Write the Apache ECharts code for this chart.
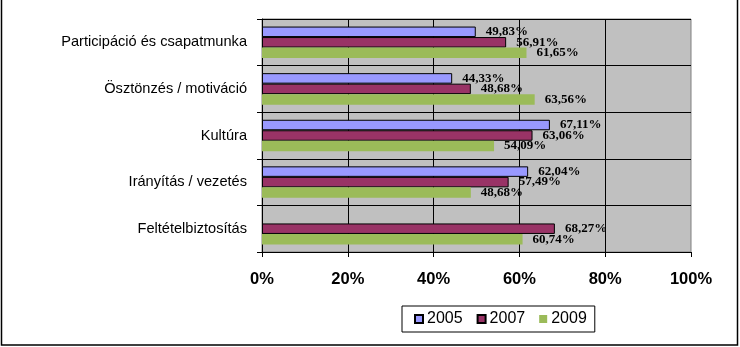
<!DOCTYPE html>
<html>
<head>
<meta charset="utf-8">
<script src="https://cdn.jsdelivr.net/npm/echarts@6/dist/echarts.min.js"></script>
<style>
  html, body { margin: 0; padding: 0; background: #fff; }
  #chart { width: 740px; height: 347px; }
</style>
</head>
<body>
<div id="chart"></div>
<script>
// Categories, top to bottom
const categories = [
  'Participáció és csapatmunka',
  'Ösztönzés / motiváció',
  'Kultúra',
  'Irányítás / vezetés',
  'Feltételbiztosítás'
];
// Percentages per survey year (no 2005 value for the last category)
const values2005 = [49.83, 44.33, 67.11, 62.04, null];
const values2007 = [56.91, 48.68, 63.06, 57.49, 68.27];
const values2009 = [61.65, 63.56, 54.09, 48.68, 60.74];
const seriesNames = ['2005', '2007', '2009'];
const xTicks = [0, 20, 40, 60, 80, 100];

const pct = v => v.toFixed(2).replace('.', ',') + '%';

const labelStyle = {
  show: true,
  position: 'right',
  distance: 10,
  fontFamily: '"Liberation Serif", "Times New Roman", serif',
  fontWeight: 'bold',
  fontSize: 13,
  color: '#000',
  formatter: p => pct(p.value)
};

function barSeries(name, data, color, border) {
  return {
    name: name,
    type: 'bar',
    data: data,
    barWidth: 10.5,
    barGap: '0%',
    itemStyle: {
      color: color,
      borderColor: border ? '#000' : color,
      borderWidth: border ? 1 : 0
    },
    label: labelStyle,
    emphasis: { disabled: true }
  };
}

const chart = echarts.init(document.getElementById('chart'), null, { renderer: 'canvas' });
chart.setOption({
  animation: false,
  backgroundColor: '#fff',
  grid: {
    left: 262, right: 49, top: 19, bottom: 95,
    show: true,
    backgroundColor: '#C0C0C0',
    borderColor: '#808080',
    borderWidth: 1
  },
  xAxis: {
    type: 'value',
    min: xTicks[0],
    max: xTicks[xTicks.length - 1],
    interval: xTicks[1] - xTicks[0],
    axisLine: { show: true, lineStyle: { color: '#000', width: 1 } },
    axisTick: { show: true, length: 5, lineStyle: { color: '#000' } },
    splitLine: { show: true, showMinLine: false, showMaxLine: false, lineStyle: { color: '#000', width: 1 } },
    axisLabel: {
      margin: 19,
      fontFamily: '"Liberation Sans", Arial, sans-serif',
      fontWeight: 'bold',
      fontSize: 16.5,
      color: '#000',
      formatter: v => v + '%'
    }
  },
  yAxis: {
    type: 'category',
    data: categories,
    inverse: true,
    axisLine: { show: true, lineStyle: { color: '#000', width: 1 } },
    axisTick: { show: true, length: 5, lineStyle: { color: '#000' } },
    splitLine: { show: true, lineStyle: { color: '#000', width: 1 } },
    axisLabel: {
      margin: 15,
      fontFamily: '"Liberation Sans", Arial, sans-serif',
      fontSize: 14.6,
      color: '#000'
    }
  },
  legend: {
    data: seriesNames,
    left: 402,
    top: 306,
    orient: 'horizontal',
    backgroundColor: '#fff',
    borderColor: '#000',
    borderWidth: 1,
    padding: [5, 8, 5, 12],
    itemWidth: 8,
    itemHeight: 8,
    itemGap: 14,
    icon: 'rect',
    selectedMode: false,
    textStyle: {
      fontFamily: '"Liberation Sans", Arial, sans-serif',
      fontSize: 16,
      color: '#000',
      padding: [0, 0, 0, -1]
    }
  },
  graphic: [{
    type: 'rect',
    shape: { x: 1.5, y: -3, width: 736, height: 348 },
    style: { fill: 'none', stroke: '#000', lineWidth: 1.5 },
    silent: true,
    z: 100
  }],
  series: [
    barSeries(seriesNames[0], values2005, '#9999FF', true),
    barSeries(seriesNames[1], values2007, '#993366', true),
    barSeries(seriesNames[2], values2009, '#9BBB59', false)
  ]
});
</script>
</body>
</html>
